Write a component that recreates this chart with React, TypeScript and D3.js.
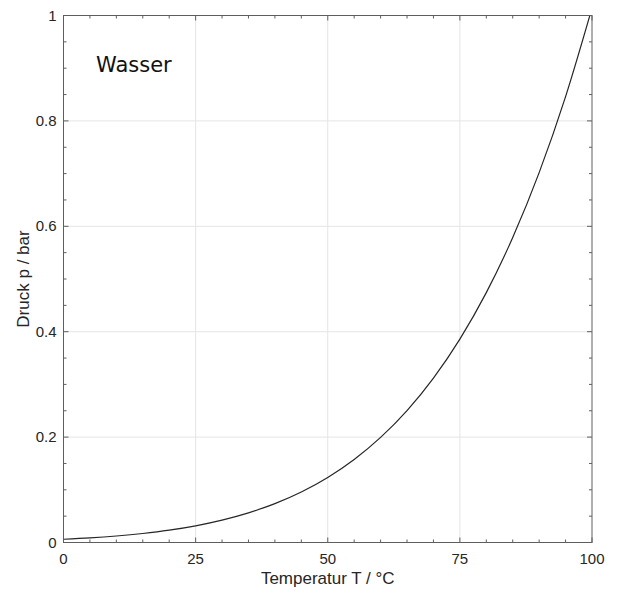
import React, { useEffect, useRef } from "react";
import * as d3 from "d3";

// Dampfdruck von Wasser
const temps = [0, 5, 10, 15, 20, 25, 30, 35, 40, 45, 50, 55, 60, 65, 70, 75, 80, 85, 90, 95, 100];
const pressures = [
  0.0061, 0.0087, 0.0123, 0.0171, 0.0234, 0.0317, 0.0425, 0.0563, 0.0738, 0.0959, 0.1235,
  0.1576, 0.1995, 0.2504, 0.312, 0.386, 0.4741, 0.5787, 0.7018, 0.8461, 1.0142,
];
const xTicks = [0, 25, 50, 75, 100];
const yTicks = [0, 0.2, 0.4, 0.6, 0.8, 1];

const App = () => {
  const ref = useRef<SVGSVGElement>(null);

  useEffect(() => {
    const svg = d3.select(ref.current);
    svg.selectAll("*").remove();

    const W = 617;
    const H = 593;
    const left = 63.5, right = 592, top = 15.5, bottom = 542.5;

    svg.attr("width", W).attr("height", H);

    const x = d3.scaleLinear().domain([0, 100]).range([left, right]);
    const y = d3.scaleLinear().domain([0, 1]).range([bottom, top]);

    const frame = "#5e5e5e";
    const font = "'Liberation Sans', Arial, sans-serif";

    // grid
    svg.append("g")
      .selectAll("line.gx")
      .data(xTicks.slice(1, -1))
      .enter()
      .append("line")
      .attr("x1", (d) => x(d))
      .attr("x2", (d) => x(d))
      .attr("y1", top)
      .attr("y2", bottom)
      .attr("stroke", "#e5e5e5")
      .attr("stroke-width", 1);

    svg.append("g")
      .selectAll("line.gy")
      .data(yTicks.slice(1, -1))
      .enter()
      .append("line")
      .attr("x1", left)
      .attr("x2", right)
      .attr("y1", (d) => y(d))
      .attr("y2", (d) => y(d))
      .attr("stroke", "#e5e5e5")
      .attr("stroke-width", 1);

    // curve
    svg.append("clipPath")
      .attr("id", "plotclip")
      .append("rect")
      .attr("x", left)
      .attr("y", top)
      .attr("width", right - left)
      .attr("height", bottom - top);

    const line = d3
      .line<number>()
      .x((d, i) => x(temps[i]))
      .y((d) => y(d))
      .curve(d3.curveMonotoneX);

    svg.append("path")
      .datum(pressures)
      .attr("d", line)
      .attr("fill", "none")
      .attr("stroke", "#262626")
      .attr("stroke-width", 1.2)
      .attr("clip-path", "url(#plotclip)");

    // ticks (inward, all four sides)
    const xMinor = d3.range(0, 101, 5);
    const yMinor = d3.range(0, 1.0001, 0.05);
    const ticks = svg.append("g").attr("stroke", frame).attr("stroke-width", 1);

    xMinor.forEach((t) => {
      const len = xTicks.includes(t) ? 5 : 3;
      ticks.append("line").attr("x1", x(t)).attr("x2", x(t)).attr("y1", bottom).attr("y2", bottom - len);
      ticks.append("line").attr("x1", x(t)).attr("x2", x(t)).attr("y1", top).attr("y2", top + len);
    });
    yMinor.forEach((t) => {
      const major = yTicks.some((v) => Math.abs(v - t) < 1e-6);
      const len = major ? 5 : 3;
      ticks.append("line").attr("x1", left).attr("x2", left + len).attr("y1", y(t)).attr("y2", y(t));
      ticks.append("line").attr("x1", right).attr("x2", right - len).attr("y1", y(t)).attr("y2", y(t));
    });

    // frame
    svg.append("rect")
      .attr("x", left)
      .attr("y", top)
      .attr("width", right - left)
      .attr("height", bottom - top)
      .attr("fill", "none")
      .attr("stroke", frame)
      .attr("stroke-width", 1);

    // tick labels
    svg.append("g")
      .selectAll("text")
      .data(xTicks)
      .enter()
      .append("text")
      .attr("x", (d) => x(d))
      .attr("y", bottom + 21)
      .attr("text-anchor", "middle")
      .attr("font-family", font)
      .attr("font-size", 15)
      .attr("fill", "#262626")
      .text((d) => d);

    svg.append("g")
      .selectAll("text")
      .data(yTicks)
      .enter()
      .append("text")
      .attr("x", left - 7)
      .attr("y", (d) => y(d) + 5)
      .attr("text-anchor", "end")
      .attr("font-family", font)
      .attr("font-size", 15)
      .attr("fill", "#262626")
      .text((d) => d);

    // axis titles
    svg.append("text")
      .attr("x", (left + right) / 2)
      .attr("y", 584)
      .attr("text-anchor", "middle")
      .attr("font-family", font)
      .attr("font-size", 17)
      .attr("fill", "#262626")
      .text("Temperatur T / °C");

    svg.append("text")
      .attr("transform", `translate(29,${(top + bottom) / 2}) rotate(-90)`)
      .attr("text-anchor", "middle")
      .attr("font-family", font)
      .attr("font-size", 17)
      .attr("fill", "#262626")
      .text("Druck p / bar");

    svg.append("text")
      .attr("x", 96)
      .attr("y", 72)
      .attr("font-family", "'DejaVu Sans', sans-serif")
      .attr("font-size", 21)
      .attr("fill", "#111")
      .text("Wasser");
  }, []);

  return <svg ref={ref} style={{ position: "absolute", left: 0, top: 0 }}></svg>;
};

export default App;
